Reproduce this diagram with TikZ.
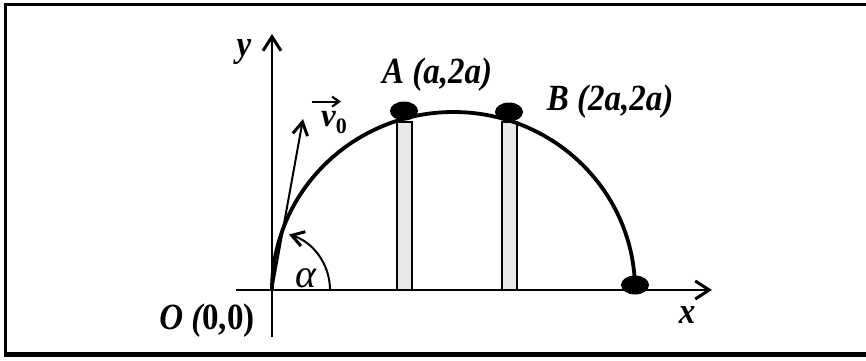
\documentclass[tikz,border=0pt]{standalone}
\usepackage{fontspec}
\setmainfont{Liberation Serif}
\usetikzlibrary{arrows.meta,shapes.geometric}
\tikzset{
  axis/.style={line width=1.8pt,-{Straight Barb[length=14pt,width=18pt,line width=3pt]}},
  traj/.style={line width=3.8pt},
  vel/.style={line width=2pt,-{Straight Barb[length=13pt,width=15pt,line width=3pt]}},
  anglearc/.style={line width=2pt,-{Straight Barb[length=12pt,width=15pt,line width=3pt]}},
  pillar/.style={draw,line width=1.5pt,fill=black!9},
  dot/.style={ellipse,fill=black,draw=none,inner sep=0pt,minimum width=28pt,minimum height=19pt},
  lbl/.style={inner sep=0pt,font=\fontsize{33}{36}\selectfont\bfseries\itshape}
}
\begin{document}
\begin{tikzpicture}[x=1pt,y=1pt]
\useasboundingbox (0,0) rectangle (866,360);
% frame
\draw[line width=3pt] (5,356) -- (5,5);
\draw[line width=2.5pt] (3.5,355.5) -- (870,355.5);
\draw[line width=5pt] (3.5,5.5) -- (870,5.5);
% coordinates
\coordinate (O) at (272,70);
\coordinate (ytop) at (272,326);
\coordinate (ybot) at (272,23);
\coordinate (xleft) at (236,70);
\coordinate (xright) at (712,70);
\coordinate (vtip) at (303,241);
% pillars
\draw[pillar] (397,70) rectangle (412,238);
\draw[pillar] (502,70) rectangle (517,238);
% axes
\draw[axis] (ybot) -- (ytop);
\draw[axis] (xleft) -- (xright);
% trajectory
\draw[traj] (O) arc[start angle=180,end angle=0,x radius=181.5,y radius=178];
% dots
\node[dot] (dA) at (404,249) {};
\node[dot] (dB) at (509,248) {};
\node[dot] (dL) at (635,75) {};
% velocity
\draw[vel] (O) -- (vtip);
% angle
\draw[anglearc] ([shift={(58,0)}]O) arc[start angle=0,end angle=73,radius=58];
% labels
\node[lbl] (ly) at (244,308) {\scalebox{1}[1.12]{y}};
\node[lbl] (lx) at (687,45) {\scalebox{1}[1.12]{x}};
\node[lbl] (lA) at (437,285) {\scalebox{1}[1.12]{A (a,2a)}};
\node[lbl] (lB) at (610,258) {\scalebox{1}[1.12]{B (2a,2a)}};
\node[lbl] (lO) at (207,39) {\scalebox{1}[1.12]{O (\upshape 0,0)}};
\node[lbl,font=\fontsize{40}{44}\selectfont\itshape] (lal) at (306,82) {α};
\node[lbl] (lv) at (334,237) {v\raisebox{-7pt}{\fontsize{22}{22}\selectfont\bfseries\upshape 0}};
\draw[line width=1.8pt,-{Straight Barb[length=7pt,width=10pt,line width=2.2pt]}] ([shift={(-9,10)}]lv.north west) -- ++(29,0);
\end{tikzpicture}
\end{document}
